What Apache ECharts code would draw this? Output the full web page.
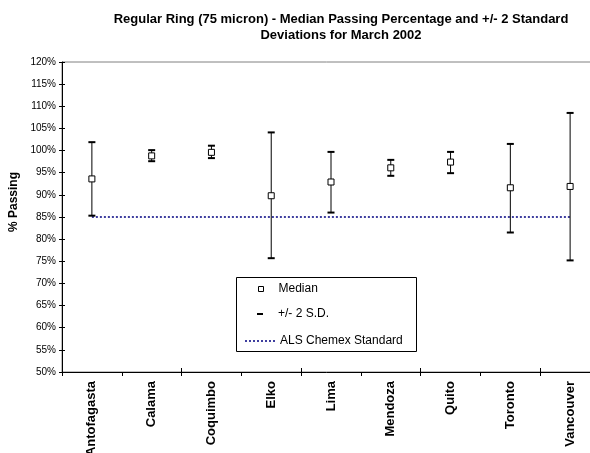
<!DOCTYPE html>
<html>
<head>
<meta charset="utf-8">
<script src="https://cdn.jsdelivr.net/npm/echarts@6/dist/echarts.min.js"></script>
<style>html,body{margin:0;padding:0;background:#fff}#c{width:590px;height:453px}</style>
</head>
<body>
<div id="c"></div>
<script>
const categories = ['Antofagasta','Calama','Coquimbo','Elko','Lima','Mendoza','Quito','Toronto','Vancouver'];
const medians   = [93.6, 98.8, 99.6, 89.8, 92.9, 96.1, 97.4, 91.6, 91.9];
const sdLow     = [85.3, 97.6, 98.3, 75.7, 86.0, 94.3, 94.9, 81.5, 75.2];
const sdHigh    = [101.9,100.1,101.1,104.1, 99.7, 97.9, 99.7,101.5,108.5];
const standard  = [85, 85, 85, 85, 85, 85, 85, 85, 85];
const yTicks    = {min: 50, max: 120, step: 5};

const FONT = 'Liberation Sans, Arial, sans-serif';
const chart = echarts.init(document.getElementById('c'));
const errData = categories.map((c, i) => [i, sdLow[i], sdHigh[i]]);
const dotIcon = 'path://M0,0h2v1.5h-2z M4,0h2v1.5h-2z M8,0h2v1.5h-2z M12,0h2v1.5h-2z M16,0h2v1.5h-2z M20,0h2v1.5h-2z M24,0h2v1.5h-2z M28,0h2v1.5h-2z';

chart.setOption({
  animation: false,
  backgroundColor: '#fff',
  title: {
    text: 'Regular Ring (75 micron) - Median Passing Percentage and +/- 2 Standard\nDeviations for March 2002',
    left: 336, top: 6, textAlign: 'center',
    textStyle: {fontFamily: FONT, fontSize: 13, fontWeight: 'bold', color: '#000', lineHeight: 16}
  },
  grid: {left: 62, top: 62, width: 538, bottom: 81, show: true, borderColor: '#808080', borderWidth: 1,
         containLabel: false, outerBoundsMode: 'none'},
  xAxis: [{
    type: 'category', data: categories, position: 'bottom',
    axisLine: {lineStyle: {color: '#000', width: 1}},
    axisTick: {show: true, length: 4, lineStyle: {color: '#000'}},
    axisLabel: {rotate: 90, margin: 9, fontFamily: FONT, fontSize: 13, fontWeight: 'bold', color: '#000', interval: 0},
    splitLine: {show: false}
  }, {
    type: 'category', data: categories, position: 'bottom',
    axisLine: {show: false},
    axisTick: {show: true, inside: true, length: 4, lineStyle: {color: '#000'}},
    axisLabel: {show: false}, splitLine: {show: false}
  }],
  yAxis: [{
    type: 'value', min: yTicks.min, max: yTicks.max, interval: yTicks.step,
    name: '% Passing', nameLocation: 'middle', nameGap: 36, nameRotate: 90,
    nameTextStyle: {fontFamily: FONT, fontSize: 12, fontWeight: 'bold', color: '#000', padding: [0, 0, 0, 30]},
    axisLine: {show: true, lineStyle: {color: '#000', width: 1}},
    axisTick: {show: true, length: 3, lineStyle: {color: '#000'}},
    axisLabel: {formatter: v => v + '%', margin: 6, fontFamily: FONT, fontSize: 10, color: '#000'},
    splitLine: {show: false}
  }, {
    type: 'value', min: yTicks.min, max: yTicks.max, interval: yTicks.step, position: 'left',
    axisLine: {show: false},
    axisTick: {show: true, inside: true, length: 3, lineStyle: {color: '#000'}},
    axisLabel: {show: false}, splitLine: {show: false}
  }],
  legend: [{
    data: [{name: 'Median', icon: 'rect'}],
    left: 258, top: 283, padding: 0, orient: 'vertical', itemWidth: 5, itemHeight: 5,
    itemStyle: {color: '#fff', borderColor: '#000', borderWidth: 1},
    textStyle: {fontFamily: FONT, fontSize: 12, color: '#000', padding: [0, 0, 0, 10]}
  }, {
    data: [{name: '+/- 2 S.D.', icon: 'rect'}],
    left: 257, top: 308, padding: 0, orient: 'vertical', itemWidth: 6, itemHeight: 2,
    itemStyle: {color: '#000', borderWidth: 0},
    textStyle: {fontFamily: FONT, fontSize: 12, color: '#000', padding: [0, 0, 0, 10]}
  }, {
    data: [{name: 'ALS Chemex Standard', icon: dotIcon}],
    left: 245, top: 335, padding: 0, orient: 'vertical', itemWidth: 30, itemHeight: 2,
    itemStyle: {color: '#000080', borderWidth: 0},
    textStyle: {fontFamily: FONT, fontSize: 12, color: '#000'}
  }],
  graphic: [{
    type: 'rect', left: 236, top: 277, z: -1,
    shape: {width: 180, height: 74},
    style: {fill: '#fff', stroke: '#000', lineWidth: 1}
  }],
  series: [{
    name: 'ALS Chemex Standard', type: 'line', data: standard,
    symbol: 'none', z: 2,
    lineStyle: {color: '#000080', width: 1.5, type: [2, 2]},
    itemStyle: {color: '#000080'}
  }, {
    name: '+/- 2 S.D.', type: 'custom', data: errData, z: 3,
    itemStyle: {color: '#000'},
    renderItem: function (params, api) {
      const x = api.value(0);
      const lo = api.coord([x, api.value(1)]);
      const hi = api.coord([x, api.value(2)]);
      return {
        type: 'group',
        children: [
          {type: 'line', shape: {x1: hi[0], y1: hi[1], x2: lo[0], y2: lo[1]}, style: {stroke: '#000', lineWidth: 1}},
          {type: 'line', shape: {x1: hi[0] - 3.5, y1: hi[1], x2: hi[0] + 3.5, y2: hi[1]}, style: {stroke: '#000', lineWidth: 2}},
          {type: 'line', shape: {x1: lo[0] - 3.5, y1: lo[1], x2: lo[0] + 3.5, y2: lo[1]}, style: {stroke: '#000', lineWidth: 2}}
        ]
      };
    }
  }, {
    name: 'Median', type: 'scatter', data: medians, z: 4,
    symbol: 'rect', symbolSize: 6,
    itemStyle: {color: '#fff', borderColor: '#000', borderWidth: 1, opacity: 1}
  }]
});
</script>
</body>
</html>
